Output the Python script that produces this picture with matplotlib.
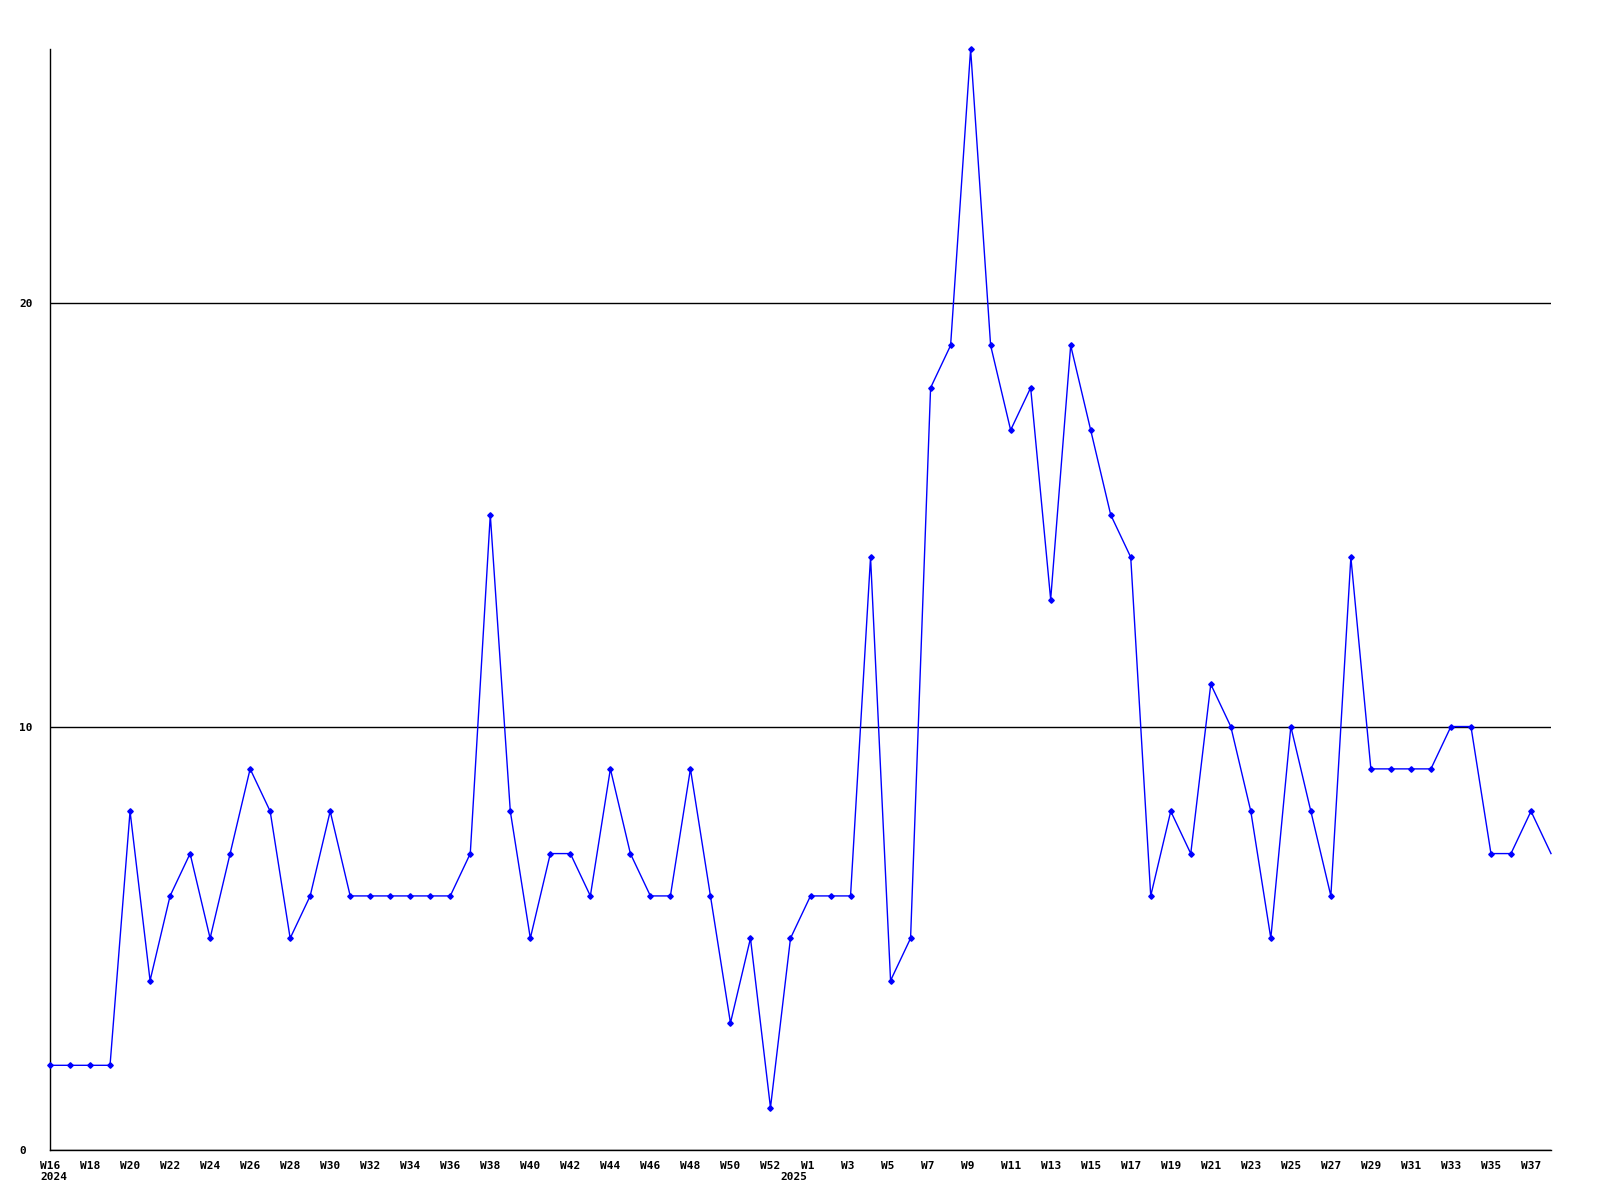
#! /usr/bin/env python3

#Recreate the weekly count line chart (W16 2024 to W38 2025).

import numpy as np
import matplotlib
matplotlib.use('Agg')
import matplotlib.pyplot as plt
from matplotlib.transforms import ScaledTranslation, blended_transform_factory
from matplotlib.font_manager import FontProperties

#Weekly values, one per week in plotting order.
counts = [2, 2, 2, 2, 8, 4, 6, 7, 5, 7,
          9, 8, 5, 6, 8, 6, 6, 6, 6, 6,
          6, 7, 15, 8, 5, 7, 7, 6, 9, 7,
          6, 6, 9, 6, 3, 5, 1, 5, 6, 6,
          6, 14, 4, 5, 18, 19, 26, 19, 17, 18,
          13, 19, 17, 15, 14, 6, 8, 7, 11, 10,
          8, 5, 10, 8, 6, 14, 9, 9, 9, 9,
          10, 10, 7, 7, 8, 7]

#Tick labels, every second week.
weekLabels = (['W%d' % w for w in range(16, 53, 2)] +
              ['W%d' % w for w in range(1, 38, 2)])
yearLabels = ['2024', '2025']
yearPos = [0, 37]
yTicks = [0, 10, 20]

def main() :
  x = np.arange(len(counts))

  fig = plt.figure(figsize = (16, 12), dpi = 100)
  ax = fig.add_axes([50/1600, 50/1200, 1501/1600, 1101/1200])

  #The data line, last point has no marker (it sits on the edge).
  ax.plot(x, counts, color = '#0000ff', lw = 1.0, marker = 'D', ms = 2.8,
          markevery = list(range(len(counts) - 1)), clip_on = False, zorder = 3)

  ax.set_xlim(0, len(counts) - 1)
  ax.set_ylim(0, 26)

  #Spines - only left and bottom.
  for side in ['top', 'right'] :
    ax.spines[side].set_visible(False)
  for side in ['left', 'bottom'] :
    ax.spines[side].set_color('black')
    ax.spines[side].set_linewidth(1.0)

  #Horizontal grid lines.
  ax.set_yticks(yTicks)
  ax.set_yticklabels([str(v) for v in yTicks])
  ax.yaxis.grid(True, color = 'black', lw = 1.0)
  ax.set_axisbelow(True)

  font = dict(family = 'DejaVu Sans Mono', weight = 'bold', size = 8)

  ax.tick_params(axis = 'y', length = 0, pad = 22)
  for lab in ax.get_yticklabels() :
    lab.set_horizontalalignment('left')
    lab.set_fontproperties(FontProperties(**font))

  ax.set_xticks(x[::2][:len(weekLabels)])
  ax.set_xticklabels(weekLabels)
  ax.tick_params(axis = 'x', length = 0, pad = 8)

  shift = ScaledTranslation(-10/100.0, 0, fig.dpi_scale_trans)
  for lab in ax.get_xticklabels() :
    lab.set_horizontalalignment('left')
    lab.set_fontproperties(FontProperties(**font))
    lab.set_transform(lab.get_transform() + shift)

  #Year labels under the first week of each year.
  trans = blended_transform_factory(ax.transData, ax.transAxes)
  yshift = ScaledTranslation(-10/100.0, -22/100.0, fig.dpi_scale_trans)
  for pos, yr in zip(yearPos, yearLabels) :
    ax.text(pos, 0, yr, transform = trans + yshift, ha = 'left', va = 'top',
            **font)

  fig.savefig('out.png', dpi = 100, facecolor = 'white')

if __name__ == '__main__':
  main()
